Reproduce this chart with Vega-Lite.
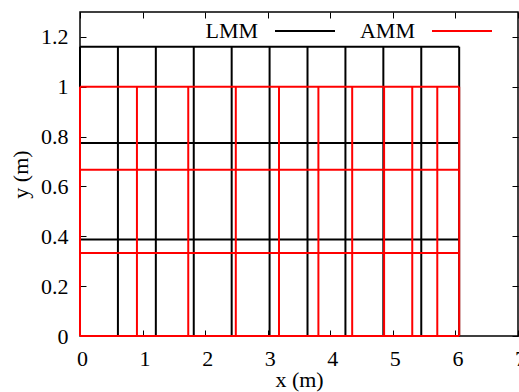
{
  "$schema": "https://vega.github.io/schema/vega-lite/v6.json",
  "width": 438,
  "height": 324,
  "autosize": {"type": "none"},
  "padding": {"left": 80, "top": 12, "right": 1, "bottom": 56},
  "background": "white",
  "config": {
    "view": {"stroke": "black", "strokeWidth": 1.5},
    "font": "Liberation Serif"
  },
  "data": {
    "values": [
      {"mesh": "LMM", "x": 0, "x2": 0, "y": 0, "y2": 1.161},
      {"mesh": "LMM", "x": 0.606, "x2": 0.606, "y": 0, "y2": 1.161},
      {"mesh": "LMM", "x": 1.212, "x2": 1.212, "y": 0, "y2": 1.161},
      {"mesh": "LMM", "x": 1.818, "x2": 1.818, "y": 0, "y2": 1.161},
      {"mesh": "LMM", "x": 2.424, "x2": 2.424, "y": 0, "y2": 1.161},
      {"mesh": "LMM", "x": 3.03, "x2": 3.03, "y": 0, "y2": 1.161},
      {"mesh": "LMM", "x": 3.636, "x2": 3.636, "y": 0, "y2": 1.161},
      {"mesh": "LMM", "x": 4.242, "x2": 4.242, "y": 0, "y2": 1.161},
      {"mesh": "LMM", "x": 4.848, "x2": 4.848, "y": 0, "y2": 1.161},
      {"mesh": "LMM", "x": 5.454, "x2": 5.454, "y": 0, "y2": 1.161},
      {"mesh": "LMM", "x": 6.06, "x2": 6.06, "y": 0, "y2": 1.161},
      {"mesh": "LMM", "x": 0, "x2": 6.06, "y": 0, "y2": 0},
      {"mesh": "LMM", "x": 0, "x2": 6.06, "y": 0.387, "y2": 0.387},
      {"mesh": "LMM", "x": 0, "x2": 6.06, "y": 0.774, "y2": 0.774},
      {"mesh": "LMM", "x": 0, "x2": 6.06, "y": 1.161, "y2": 1.161},
      {"mesh": "AMM", "x": 0, "x2": 0, "y": 0, "y2": 1.0},
      {"mesh": "AMM", "x": 0.91, "x2": 0.91, "y": 0, "y2": 1.0},
      {"mesh": "AMM", "x": 1.73, "x2": 1.73, "y": 0, "y2": 1.0},
      {"mesh": "AMM", "x": 2.49, "x2": 2.49, "y": 0, "y2": 1.0},
      {"mesh": "AMM", "x": 3.18, "x2": 3.18, "y": 0, "y2": 1.0},
      {"mesh": "AMM", "x": 3.81, "x2": 3.81, "y": 0, "y2": 1.0},
      {"mesh": "AMM", "x": 4.35, "x2": 4.35, "y": 0, "y2": 1.0},
      {"mesh": "AMM", "x": 4.86, "x2": 4.86, "y": 0, "y2": 1.0},
      {"mesh": "AMM", "x": 5.31, "x2": 5.31, "y": 0, "y2": 1.0},
      {"mesh": "AMM", "x": 5.71, "x2": 5.71, "y": 0, "y2": 1.0},
      {"mesh": "AMM", "x": 6.06, "x2": 6.06, "y": 0, "y2": 1.0},
      {"mesh": "AMM", "x": 0, "x2": 6.06, "y": 0, "y2": 0},
      {"mesh": "AMM", "x": 0, "x2": 6.06, "y": 0.333, "y2": 0.333},
      {"mesh": "AMM", "x": 0, "x2": 6.06, "y": 0.667, "y2": 0.667},
      {"mesh": "AMM", "x": 0, "x2": 6.06, "y": 1.0, "y2": 1.0}
    ]
  },
  "layer": [
    {
      "mark": {"type": "rule", "strokeWidth": 2},
      "encoding": {
        "x": {
          "field": "x", "type": "quantitative",
          "scale": {"domain": [0, 7], "nice": false, "zero": false},
          "axis": {
            "orient": "bottom", "values": [0, 1, 2, 3, 4, 5, 6, 7], "format": "d",
            "grid": false, "domain": false, "tickColor": "black", "tickSize": -6, "tickWidth": 1,
            "labelFont": "Liberation Serif", "labelFontSize": 22, "labelColor": "black", "labelFlush": false, "labelPadding": 18, "labelOffset": 2,
            "title": "x  (m)", "titleFont": "Liberation Serif", "titleFontSize": 22, "titleFontWeight": "normal", "titleColor": "black", "titlePadding": 0
          }
        },
        "x2": {"field": "x2"},
        "y": {
          "field": "y", "type": "quantitative",
          "scale": {"domain": [0, 1.3], "nice": false, "zero": false},
          "axis": {
            "orient": "left", "values": [0, 0.2, 0.4, 0.6, 0.8, 1, 1.2], "format": "~g",
            "grid": false, "domain": false, "tickColor": "black", "tickSize": -6, "tickWidth": 1,
            "labelFont": "Liberation Serif", "labelFontSize": 22, "labelColor": "black", "labelFlush": false, "labelPadding": 18,
            "title": "y  (m)", "titleFont": "Liberation Serif", "titleFontSize": 22, "titleFontWeight": "normal", "titleColor": "black", "titlePadding": 8
          }
        },
        "y2": {"field": "y2"},
        "color": {
          "field": "mesh", "type": "nominal",
          "scale": {"domain": ["LMM", "AMM"], "range": ["black", "#ff0000"]},
          "legend": {
            "orient": "none", "legendX": 194, "legendY": -12,
            "direction": "horizontal", "title": null,
            "symbolType": "stroke", "symbolSize": 3600, "symbolStrokeWidth": 2,
            "labelFont": "Liberation Serif", "labelFontSize": 22, "labelColor": "black",
            "labelAlign": "right", "labelOffset": -78, "columnPadding": 20
          }
        }
      }
    },
    {
      "mark": {"type": "rule", "opacity": 0},
      "encoding": {
        "x": {"field": "x", "type": "quantitative", "axis": {"orient": "top", "values": [0, 1, 2, 3, 4, 5, 6, 7], "labels": false, "title": null, "grid": false, "domain": false, "tickColor": "black", "tickSize": -6, "tickWidth": 1}},
        "y": {"field": "y", "type": "quantitative", "axis": {"orient": "right", "values": [0, 0.2, 0.4, 0.6, 0.8, 1, 1.2], "labels": false, "title": null, "grid": false, "domain": false, "tickColor": "black", "tickSize": -6, "tickWidth": 1}}
      }
    }
  ]
}
